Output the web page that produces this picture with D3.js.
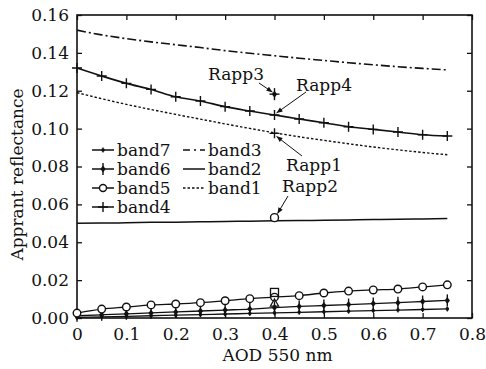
<!DOCTYPE html>
<html><head><meta charset="utf-8">
<script src="https://cdn.jsdelivr.net/npm/d3@7/dist/d3.min.js"></script>
<style>body{margin:0;background:#fff}svg{display:block}</style>
</head><body>
<svg id="c" width="486" height="369"></svg>
<script>
const aod = [0,0.05,0.1,0.15,0.2,0.25,0.3,0.35,0.4,0.45,0.5,0.55,0.6,0.65,0.7,0.75];
const band3 = [0.152,0.1495,0.1475,0.1458,0.1443,0.1428,0.1412,0.1398,0.1385,0.1372,0.136,0.1348,0.1337,0.1327,0.1318,0.131];
const band4 = [0.132,0.1278,0.1239,0.1207,0.1168,0.1146,0.1116,0.1093,0.1072,0.1051,0.1031,0.101,0.0996,0.0982,0.0968,0.0961];
const band1 = [0.119,0.1158,0.1128,0.1101,0.1075,0.1050,0.1025,0.1001,0.0978,0.0957,0.0938,0.0920,0.0903,0.0888,0.0874,0.0862];
const band2 = [0.0500,0.0501,0.0503,0.0505,0.0506,0.0508,0.0510,0.0511,0.0513,0.0515,0.0516,0.0518,0.0520,0.0521,0.0523,0.0525];
const band5 = [0.0026,0.0047,0.0058,0.0069,0.0074,0.0081,0.0091,0.0102,0.011,0.0118,0.0132,0.0142,0.0148,0.0153,0.0164,0.0175];
const band6 = [0.0012,0.0017,0.0022,0.0027,0.0032,0.0037,0.0042,0.0047,0.0055,0.0061,0.0066,0.0071,0.0076,0.0081,0.0087,0.0093];
const band7 = [0.0003,0.0006,0.0009,0.0012,0.0015,0.0018,0.0021,0.0024,0.0027,0.003,0.0033,0.0036,0.0039,0.0042,0.0045,0.0048];
const xTicks = [0,0.1,0.2,0.3,0.4,0.5,0.6,0.7,0.8];
const yTicks = [0,0.02,0.04,0.06,0.08,0.10,0.12,0.14,0.16];
const rappNames = ["Rapp1","Rapp2","Rapp3","Rapp4"];
const rappX = [0.4,0.4,0.4,0.4];
const rappY = [0.0975,0.0530,0.1182,0.1072];
const extraSquare = [0.4,0.0135];
const extraTriangle = [0.4,0.0075];

const svg = d3.select("#c");
const FONT = "DejaVu Serif";
const FS = 17;
const L=77,R=472,T=15,B=318;
const x = d3.scaleLinear().domain([0,0.8]).range([L,R]);
const y = d3.scaleLinear().domain([0,0.16]).range([B,T]);

const gx = svg.append("g").attr("transform",`translate(0,${B})`)
  .call(d3.axisBottom(x).tickValues(xTicks).tickSizeInner(-5).tickSizeOuter(0).tickPadding(10).tickFormat(d=>d===0?"0":d3.format(".1f")(d)));
const gxt = svg.append("g").attr("transform",`translate(0,${T})`)
  .call(d3.axisTop(x).tickValues(xTicks).tickSizeInner(-5).tickSizeOuter(0).tickFormat(""));
const gy = svg.append("g").attr("transform",`translate(${L},0)`)
  .call(d3.axisLeft(y).tickValues(yTicks).tickSizeInner(-5).tickSizeOuter(0).tickPadding(8).tickFormat(d3.format(".2f")));
const gyr = svg.append("g").attr("transform",`translate(${R},0)`)
  .call(d3.axisRight(y).tickValues(yTicks).tickSizeInner(-5).tickSizeOuter(0).tickFormat(""));
[gx,gxt,gy,gyr].forEach(g=>{
  g.select(".domain").remove();
  g.selectAll("line").attr("stroke","#111").attr("stroke-width",1.3);
  g.selectAll("text").attr("font-family",FONT).attr("font-size",FS).attr("fill","#111");
});
svg.append("rect").attr("x",L).attr("y",T).attr("width",R-L).attr("height",B-T)
  .attr("fill","none").attr("stroke","#111").attr("stroke-width",1.6);

svg.append("text").attr("x",x(0.4)+3).attr("y",361).attr("text-anchor","middle")
  .attr("font-family",FONT).attr("font-size",FS).attr("fill","#111").text("AOD 550 nm");
svg.append("text").attr("transform",`translate(23,${(T+B)/2+8}) rotate(-90)`).attr("text-anchor","middle")
  .attr("font-family",FONT).attr("font-size",FS).attr("fill","#111").text("Apprant reflectance");

const line = d3.line().x((d,i)=>x(aod[i])).y(d=>y(d)).curve(d3.curveMonotoneX);
function drawLine(data,dash,w){
  svg.append("path").datum(data).attr("d",line).attr("fill","none")
    .attr("stroke","#111").attr("stroke-width",w||1.5).attr("stroke-dasharray",dash||null);
}
drawLine(band3,"9,3,2,3",1.6);
drawLine(band4,null,1.6);
drawLine(band1,"2.5,2",1.4);
drawLine(band2,null,1.5);
drawLine(band5,null,1.3);
drawLine(band6,null,1.3);
drawLine(band7,null,1.3);

function plus(g,cx,cy,s){ g.append("path").attr("d",`M${cx-s},${cy}H${cx+s}M${cx},${cy-s}V${cy+s}`).attr("stroke","#111").attr("stroke-width",1.4).attr("fill","none"); }
function circ(g,cx,cy,r){ g.append("circle").attr("cx",cx).attr("cy",cy).attr("r",r).attr("fill","#fff").attr("stroke","#111").attr("stroke-width",1.4); }
function star6(g,cx,cy){ g.append("path").attr("d",`M${cx},${cy-6}V${cy+6}`).attr("stroke","#111").attr("stroke-width",1.4);
  g.append("path").attr("d",`M${cx},${cy-3.5}L${cx+2.6},${cy}L${cx},${cy+3.5}L${cx-2.6},${cy}Z`).attr("fill","#111"); }
function dot7(g,cx,cy){ g.append("path").attr("d",`M${cx},${cy-2.5}V${cy+2.5}`).attr("stroke","#111").attr("stroke-width",1.2);
  g.append("circle").attr("cx",cx).attr("cy",cy).attr("r",1.8).attr("fill","#111"); }

const mk = svg.append("g");
aod.forEach((a,i)=>{
  plus(mk,x(a),y(band4[i]),5);
  dot7(mk,x(a),y(band7[i]));
  star6(mk,x(a),y(band6[i]));
  circ(mk,x(a),y(band5[i]),3.8);
});
mk.append("rect").attr("x",x(extraSquare[0])-4).attr("y",y(extraSquare[1])-4).attr("width",8).attr("height",8)
  .attr("fill","none").attr("stroke","#111").attr("stroke-width",1.3);
mk.append("path").attr("d",d3.symbol(d3.symbolTriangle,30)()).attr("transform",`translate(${x(extraTriangle[0])},${y(extraTriangle[1])})`)
  .attr("fill","none").attr("stroke","#111").attr("stroke-width",1.2);

plus(mk,x(rappX[0]),y(rappY[0]),5);
circ(mk,x(rappX[1]),y(rappY[1]),4);
star6(mk,x(rappX[2]),y(rappY[2]));
mk.append("path").attr("d",`M${x(rappX[2])-5},${y(rappY[2])}H${x(rappX[2])+5}`).attr("stroke","#111").attr("stroke-width",1.4);

const ann = [
  {i:0, lx:314, ly:171, x1:302, y1:156, dx:2, dy:3},
  {i:1, lx:310, ly:192, x1:288, y1:196, dx:3, dy:-4},
  {i:2, lx:236, ly:80, x1:259, y1:83, dx:-2, dy:-2},
  {i:3, lx:324, ly:91, x1:306, y1:92, dx:2, dy:-2}
];
ann.forEach(a=>{
  const mx = x(rappX[a.i])+a.dx, my = y(rappY[a.i])+a.dy;
  svg.append("line").attr("x1",a.x1).attr("y1",a.y1).attr("x2",mx).attr("y2",my).attr("stroke","#111").attr("stroke-width",1);
  const ang = Math.atan2(my-a.y1,mx-a.x1);
  const hl=6, hw=2.5;
  const bx = mx-hl*Math.cos(ang), by = my-hl*Math.sin(ang);
  svg.append("path").attr("d",`M${mx},${my}L${bx-hw*Math.sin(ang)},${by+hw*Math.cos(ang)}L${bx+hw*Math.sin(ang)},${by-hw*Math.cos(ang)}Z`).attr("fill","#111");
  svg.append("text").attr("x",a.lx).attr("y",a.ly).attr("text-anchor","middle")
    .attr("font-family",FONT).attr("font-size",FS).attr("fill","#111").text(rappNames[a.i]);
});

const legNames = ["band7","band6","band5","band4","band3","band2","band1"];
const legRow = [0,1,2,3,0,1,2];
const legCol = [0,0,0,0,1,1,1];
const lg = svg.append("g");
legNames.forEach((n,k)=>{
  const x0 = legCol[k]===0?92:183, yy = 150+legRow[k]*19;
  const x1 = x0+22;
  const ln = lg.append("line").attr("x1",x0).attr("x2",x1).attr("y1",yy).attr("y2",yy).attr("stroke","#111").attr("stroke-width",1.5);
  if(n==="band3") ln.attr("stroke-dasharray","7,4,2,4");
  if(n==="band1") ln.attr("stroke-dasharray","2.5,2");
  const cx=(x0+x1)/2;
  if(n==="band7") dot7(lg,cx,yy);
  if(n==="band6") star6(lg,cx,yy);
  if(n==="band5") circ(lg,cx,yy,3.5);
  if(n==="band4") plus(lg,cx,yy,5);
  lg.append("text").attr("x",x1+3).attr("y",yy+6).attr("font-family",FONT).attr("font-size",FS).attr("fill","#111").text(n);
});
</script>
</body></html>
